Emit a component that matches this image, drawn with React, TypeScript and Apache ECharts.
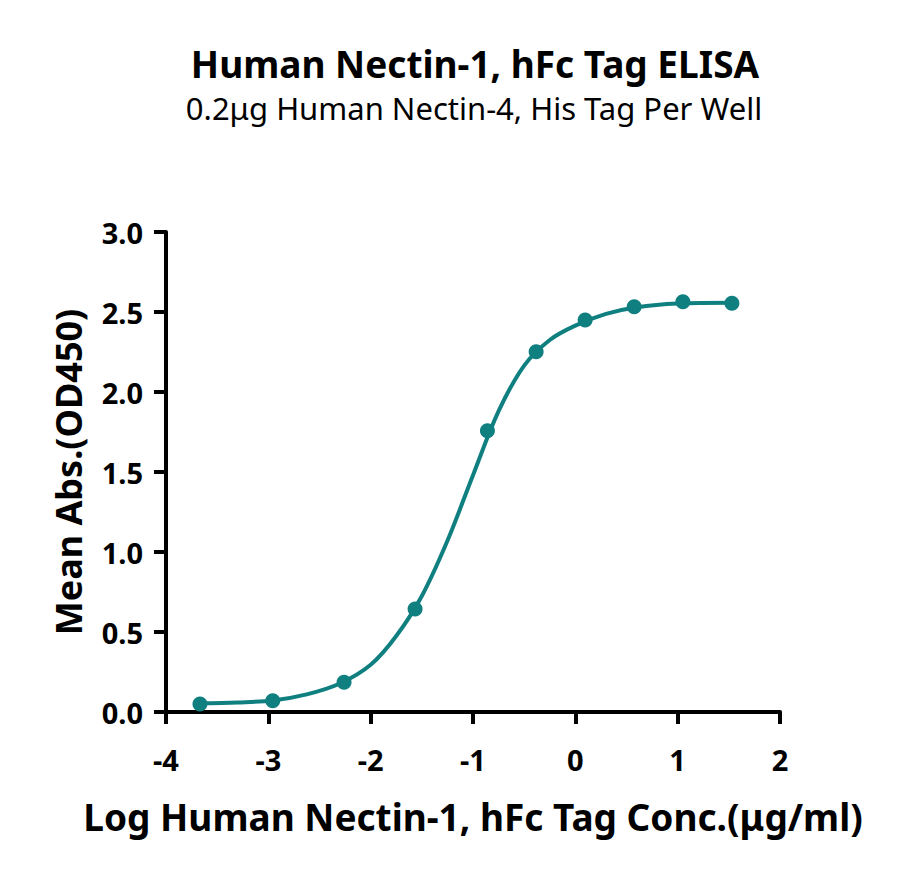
import React, { useEffect, useRef } from 'react';
import * as echarts from 'echarts';

// measured points
const logConc = [-3.668, -2.957, -2.26, -1.566, -0.859, -0.383, 0.096, 0.575, 1.051, 1.53];
const meanAbs = [0.05, 0.07, 0.186, 0.644, 1.758, 2.252, 2.45, 2.533, 2.564, 2.554];

// fitted curve
const fitX = [
  -3.668, -3.3, -2.957, -2.625, -2.3, -2.0, -1.75, -1.5, -1.25, -1.0, -0.75, -0.5, -0.25, 0.0, 0.3, 0.6,
  1.0, 1.53,
];
const fitY = [
  0.055, 0.06, 0.072, 0.11, 0.178, 0.295, 0.475, 0.725, 1.07, 1.48, 1.88, 2.165, 2.325, 2.415, 2.488, 2.53,
  2.553, 2.558,
];

const TITLE = 'Human Nectin-1, hFc Tag ELISA';
const SUBTITLE = '0.2μg Human Nectin-4, His Tag Per Well';
const X_NAME = 'Log Human Nectin-1, hFc Tag Conc.(μg/ml)';
const Y_NAME = 'Mean Abs.(OD450)';

const TEAL = '#0F7F80';
const FONT = '"Noto Sans", "Open Sans", sans-serif';

export default function App() {
  const elRef = useRef<HTMLDivElement | null>(null);

  useEffect(() => {
    if (!elRef.current) return;
    const chart = echarts.init(elRef.current, undefined, { renderer: 'svg' });
    const pts = logConc.map((x, i) => [x, meanAbs[i]]);
    const curve = fitX.map((x, i) => [x, fitY[i]]);

    const axisText = { color: '#000', fontSize: 29, fontWeight: 'bold' as const, fontFamily: FONT };
    const nameText = { color: '#000', fontWeight: 'bold' as const, fontFamily: FONT };

    chart.setOption({
      animation: false,
      backgroundColor: '#fff',
      graphic: [
        {
          type: 'text',
          x: 475,
          y: 63,
          style: {
            text: TITLE,
            fill: '#000',
            font: `bold 37px ${FONT}`,
            textAlign: 'center',
            textVerticalAlign: 'middle',
          },
        },
        {
          type: 'text',
          x: 474,
          y: 108,
          style: {
            text: SUBTITLE,
            fill: '#000',
            font: `31px ${FONT}`,
            textAlign: 'center',
            textVerticalAlign: 'middle',
          },
        },
      ],
      grid: { left: 166, right: 120, top: 232, bottom: 162, containLabel: false, outerBoundsMode: 'none' },
      xAxis: {
        type: 'value',
        min: -4,
        max: 2,
        interval: 1,
        name: X_NAME,
        nameLocation: 'middle',
        nameGap: 86,
        nameTextStyle: { ...nameText, fontSize: 37 },
        axisLine: { onZero: false, lineStyle: { color: '#000', width: 4 } },
        axisTick: { length: 12, lineStyle: { color: '#000', width: 4 } },
        axisLabel: { ...axisText, margin: 33 },
        splitLine: { show: false },
      },
      yAxis: {
        type: 'value',
        min: 0,
        max: 3,
        interval: 0.5,
        name: Y_NAME,
        nameLocation: 'middle',
        nameGap: 80,
        nameRotate: 90,
        nameTextStyle: { ...nameText, fontSize: 36 },
        axisLine: { show: true, onZero: false, lineStyle: { color: '#000', width: 4 } },
        axisTick: { show: true, length: 12, lineStyle: { color: '#000', width: 4 } },
        axisLabel: { ...axisText, margin: 23, formatter: (v: number) => v.toFixed(1) },
        splitLine: { show: false },
      },
      series: [
        {
          type: 'line',
          data: curve,
          smooth: 0.35,
          showSymbol: false,
          lineStyle: { color: TEAL, width: 4 },
          z: 2,
        },
        {
          type: 'scatter',
          data: pts,
          symbol: 'circle',
          symbolSize: 15,
          itemStyle: { color: TEAL, opacity: 1 },
          z: 3,
        },
      ],
    });

    return () => {
      chart.dispose();
    };
  }, []);

  return (
    <div
      ref={elRef}
      style={{ position: 'absolute', left: 0, top: 0, width: 900, height: 874, background: '#fff' }}
    />
  );
}
